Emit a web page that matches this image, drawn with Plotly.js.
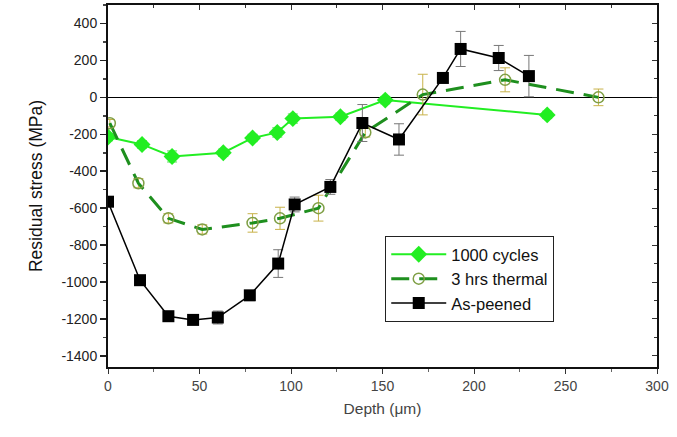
<!DOCTYPE html>
<html>
<head>
<meta charset="utf-8">
<script src="https://cdn.plot.ly/plotly-3.0.1.min.js"></script>
<style>html,body{margin:0;padding:0;background:#fff;}#chart{width:677px;height:437px;}</style>
</head>
<body>
<div id="chart"></div>
<script>
// 1000 cycles
const cycDepth = [0, 18.6, 35, 63, 79, 92.5, 101, 127, 151.5, 240];
const cycStress = [-215, -255, -320, -300, -220, -190, -115, -105, -15, -95];
const cycErr = [20, 20, 30, 20, 20, 25, 25, 20, 20, 20];

// 3 hrs thermal
const thDepth = [1, 16.6, 33, 51.5, 79, 94, 115, 140.6, 172, 217, 268];
const thStress = [-140, -465, -655, -715, -680, -655, -600, -190, 15, 95, 0];
const thErr = [20, 25, 25, 25, 50, 60, 70, 25, 110, 65, 45];

// As-peened
const apDepth = [0, 17.5, 33, 46.5, 60, 77.5, 93, 102, 121.5, 139, 159, 183, 192.7, 213.5, 230];
const apStress = [-565, -990, -1185, -1205, -1192, -1072, -900, -580, -485, -139, -228, 105, 262, 213, 115];
const apErr = [15, 15, 15, 25, 35, 15, 75, 40, 40, 100, 85, 20, 95, 68, 112];

// tick labels
const yTickVals = [400, 200, 0, -200, -400, -600, -800, -1000, -1200, -1400];
const yTickText = ["400", "200", "0", "-200", "-400", "-600", "-800", "-1000", "-1200", "-1400"];
const xTickVals = [0, 50, 100, 150, 200, 250, 300];
const xTickText = ["0", "50", "100", "150", "200", "250", "300"];

const legendNames = ["1000 cycles", "3 hrs thermal", "As-peened"];

const traces = [
  {
    x: cycDepth, y: cycStress, name: legendNames[0], type: "scatter", mode: "lines+markers",
    line: {color: "#22ee22", width: 2},
    marker: {symbol: "diamond", size: 13, color: "#22ee22"},
    error_y: {type: "data", array: cycErr, visible: true, color: "#55dd55", thickness: 1, width: 5}
  },
  {
    x: thDepth, y: thStress, name: legendNames[1], type: "scatter", mode: "lines+markers",
    line: {color: "#1e8f1e", width: 3, dash: "18px,10px"},
    marker: {symbol: "circle-open", size: 11, color: "#7f9f45", line: {width: 1.5, color: "#7f9f45"}},
    error_y: {type: "data", array: thErr, visible: true, color: "#c8b24a", thickness: 1, width: 5}
  },
  {
    x: apDepth, y: apStress, name: legendNames[2], type: "scatter", mode: "lines+markers",
    line: {color: "#000000", width: 1.5},
    marker: {symbol: "square", size: 12, color: "#000000"},
    error_y: {type: "data", array: apErr, visible: true, color: "#777777", thickness: 1, width: 5}
  },
  {
    x: [0, 300], y: [0, 0], xaxis: "x2", yaxis: "y2", mode: "lines", showlegend: false,
    hoverinfo: "skip", line: {color: "#000", width: 1}, opacity: 0
  }
];

const layout = {
  width: 677, height: 437,
  margin: {l: 108, r: 20, t: 5, b: 70},
  paper_bgcolor: "#fff", plot_bgcolor: "#fff",
  font: {family: "Liberation Sans, Arial, sans-serif", color: "#222"},
  showlegend: true,
  legend: {
    x: 0.505, y: 0.362, xanchor: "left", yanchor: "top",
    bgcolor: "#fff", bordercolor: "#222", borderwidth: 1,
    font: {size: 16.5, color: "#111"},
    itemwidth: 55, tracegroupgap: 2
  },
  xaxis: {
    range: [0, 300], tickvals: xTickVals, ticktext: xTickText,
    ticks: "outside", ticklen: 5, tickwidth: 1, tickcolor: "#333",
    minor: {dtick: 25, ticks: "outside", ticklen: 3, tickcolor: "#666"},
    showline: true, linecolor: "#111", linewidth: 2, showgrid: false, zeroline: false,
    tickfont: {size: 14, color: "#444"},
    title: {text: "Depth (μm)", font: {size: 15.5, color: "#444"}, standoff: 10}
  },
  yaxis: {
    range: [-1460, 500], tickvals: yTickVals, ticktext: yTickText,
    ticks: "outside", ticklen: 6, tickwidth: 1.5, tickcolor: "#222",
    minor: {dtick: 100, ticks: "outside", ticklen: 3, tickcolor: "#444"},
    showline: true, linecolor: "#111", linewidth: 2, showgrid: false,
    zeroline: true, zerolinecolor: "#000", zerolinewidth: 1.5,
    tickfont: {size: 14, color: "#222"},
    title: {text: "Residual stress (MPa)", font: {size: 17.5, color: "#111"}, standoff: 14}
  },
  xaxis2: {
    range: [0, 300], overlaying: "x", side: "top", anchor: "y2",
    tickvals: xTickVals, showticklabels: false, ticks: "inside", ticklen: 5, tickcolor: "#333",
    minor: {dtick: 25, ticks: "inside", ticklen: 3},
    showline: true, linecolor: "#111", linewidth: 2, showgrid: false, zeroline: false
  },
  yaxis2: {
    range: [-1460, 500], overlaying: "y", side: "right", anchor: "x2",
    tickvals: yTickVals, showticklabels: false, ticks: "inside", ticklen: 5, tickcolor: "#333",
    minor: {dtick: 100, ticks: "inside", ticklen: 3},
    showline: true, linecolor: "#111", linewidth: 2, showgrid: false, zeroline: false
  }
};

Plotly.newPlot("chart", traces, layout, {staticPlot: true, displayModeBar: false});
</script>
</body>
</html>
